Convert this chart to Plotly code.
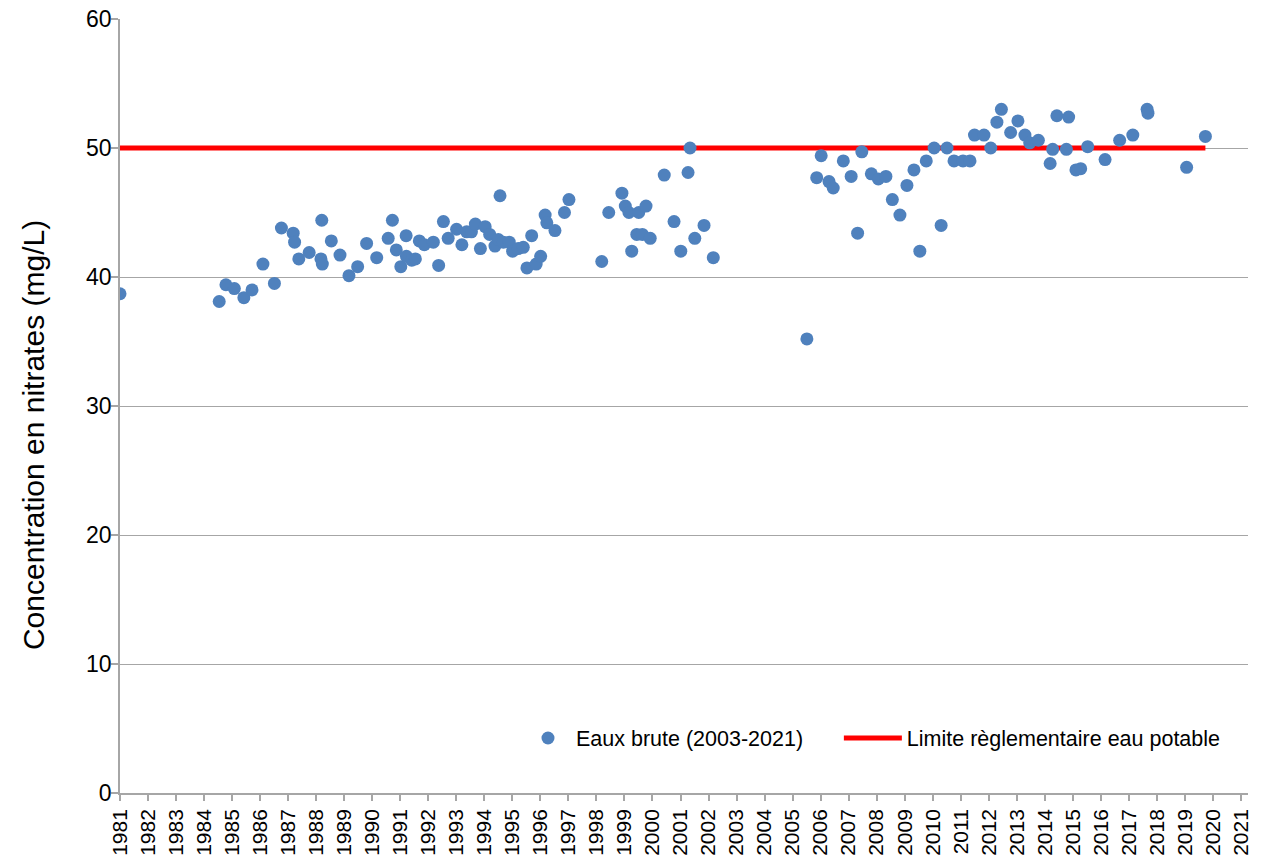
import plotly.graph_objects as go

# Sample dates (decimal years) and nitrate concentrations (mg/L)
dates = [
    1981.00, 1984.54, 1984.78, 1985.08, 1985.42, 1985.71, 1986.10, 1986.51, 1986.76, 1987.18,
    1987.23, 1987.38, 1987.75, 1988.17, 1988.22, 1988.20, 1988.54, 1988.85, 1989.17, 1989.48,
    1989.80, 1990.16, 1990.57, 1990.72, 1990.86, 1991.02, 1991.21, 1991.22, 1991.41, 1991.54,
    1991.68, 1991.86, 1992.18, 1992.37, 1992.54, 1992.71, 1993.01, 1993.20, 1993.37, 1993.54,
    1993.68, 1993.86, 1994.03, 1994.19, 1994.38, 1994.50, 1994.56, 1994.68, 1994.89, 1995.01,
    1995.21, 1995.39, 1995.52, 1995.69, 1995.85, 1996.01, 1996.17, 1996.23, 1996.52, 1996.86,
    1997.02, 1998.19, 1998.44, 1998.91, 1999.03, 1999.16, 1999.26, 1999.44, 1999.51, 1999.64,
    1999.77, 1999.92, 2000.42, 2000.77, 2001.01, 2001.27, 2001.34, 2001.51, 2001.84, 2002.17,
    2005.51, 2005.86, 2006.02, 2006.30, 2006.45, 2006.81, 2007.09, 2007.32, 2007.47, 2007.81,
    2008.06, 2008.33, 2008.56, 2008.83, 2009.08, 2009.33, 2009.54, 2009.77, 2010.05, 2010.30,
    2010.51, 2010.76, 2011.08, 2011.33, 2011.49, 2011.83, 2012.07, 2012.29, 2012.45, 2012.78,
    2013.04, 2013.29, 2013.46, 2013.77, 2014.19, 2014.28, 2014.43, 2014.77, 2014.85, 2015.11,
    2015.28, 2015.53, 2016.15, 2016.67, 2017.14, 2017.65, 2017.68, 2019.06, 2019.73,
]
nitrates = [
    38.7, 38.1, 39.4, 39.1, 38.4, 39.0, 41.0, 39.5, 43.8, 43.4,
    42.7, 41.4, 41.9, 41.4, 41.0, 44.4, 42.8, 41.7, 40.1, 40.8,
    42.6, 41.5, 43.0, 44.4, 42.1, 40.8, 43.2, 41.6, 41.3, 41.4,
    42.8, 42.5, 42.7, 40.9, 44.3, 43.0, 43.7, 42.5, 43.5, 43.5,
    44.1, 42.2, 43.9, 43.3, 42.4, 42.9, 46.3, 42.7, 42.7, 42.0,
    42.2, 42.3, 40.7, 43.2, 41.0, 41.6, 44.8, 44.2, 43.6, 45.0,
    46.0, 41.2, 45.0, 46.5, 45.5, 45.0, 42.0, 43.3, 45.0, 43.3,
    45.5, 43.0, 47.9, 44.3, 42.0, 48.1, 50.0, 43.0, 44.0, 41.5,
    35.2, 47.7, 49.4, 47.4, 46.9, 49.0, 47.8, 43.4, 49.7, 48.0,
    47.6, 47.8, 46.0, 44.8, 47.1, 48.3, 42.0, 49.0, 50.0, 44.0,
    50.0, 49.0, 49.0, 49.0, 51.0, 51.0, 50.0, 52.0, 53.0, 51.2,
    52.1, 51.0, 50.4, 50.6, 48.8, 49.9, 52.5, 49.9, 52.4, 48.3,
    48.4, 50.1, 49.1, 50.6, 51.0, 53.0, 52.7, 48.5, 50.9,
]

limit_value = 50
limit_dates = [dates[0], dates[-1]]
limit_values = [limit_value, limit_value]

years = list(range(1981, 2022))
year_labels = [str(y) for y in years]

series_names = ["Eaux brute (2003-2021)", "Limite règlementaire eau potable"]
y_title = "Concentration en nitrates (mg/L)"

FONT = "Liberation Sans, Arial, sans-serif"
GRID = "#a6a6a6"

fig = go.Figure()
fig.add_trace(go.Scatter(
    x=limit_dates, y=limit_values, mode="lines", name=series_names[1],
    line=dict(color="#ff0000", width=5), legend="legend2", hoverinfo="skip",
))
fig.add_trace(go.Scatter(
    x=dates, y=nitrates, mode="markers", name=series_names[0],
    marker=dict(color="#4f81bd", size=13, line=dict(width=0)), legend="legend",
))

legend_common = dict(orientation="h", yanchor="middle", y=0.071, xanchor="left",
                     bgcolor="rgba(0,0,0,0)", font=dict(size=21.5))

fig.update_layout(
    width=1261, height=861,
    margin=dict(l=120, r=13, t=19, b=68, autoexpand=False),
    paper_bgcolor="white", plot_bgcolor="white",
    font=dict(family=FONT, size=21, color="#000000"),
    showlegend=True,
    legend=dict(x=0.3546, itemwidth=46, **legend_common),
    legend2=dict(x=0.6373, itemwidth=58, **legend_common),
    xaxis=dict(
        range=[1981, 2021.25], tickmode="array", tickvals=years, ticktext=year_labels,
        tickangle=-90, showgrid=False, zeroline=False, automargin=False,
        showline=True, linecolor=GRID, linewidth=1.5,
        ticks="outside", ticklen=6, tickcolor=GRID, tickwidth=1.5,
        tickfont=dict(size=21), ticklabeloverflow="allow",
    ),
    yaxis=dict(
        range=[0, 60], dtick=10, showgrid=True, gridcolor=GRID, gridwidth=1.2,
        zeroline=False, showline=True, linecolor=GRID, linewidth=1.5, automargin=False,
        ticks="outside", ticklen=7, tickcolor=GRID, tickwidth=1.5,
        tickfont=dict(size=23), ticklabeloverflow="allow", ticklabelstandoff=-5,
    ),
    annotations=[dict(
        text=y_title, textangle=-90, xref="paper", yref="paper",
        x=-0.0771, y=0.4625, xanchor="center", yanchor="middle",
        showarrow=False, font=dict(size=30),
    )],
)

# remove the browser's default 8px body margin so the figure sits at the page origin
fig.write_html(
    "out.html",
    config={"displayModeBar": False},
    post_script="document.body.style.margin='0px';document.body.style.overflow='hidden';",
)
